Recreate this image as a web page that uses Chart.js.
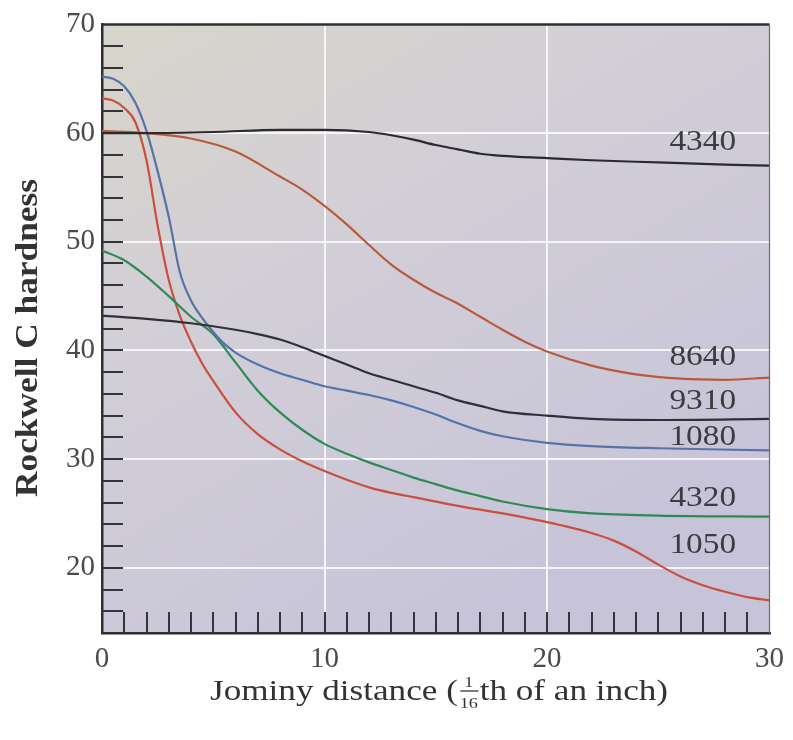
<!DOCTYPE html>
<html>
<head>
<meta charset="utf-8">
<script src="https://cdn.jsdelivr.net/npm/chart.js@4.4.0/dist/chart.umd.min.js"></script>
<style>
  html, body { margin: 0; padding: 0; background: #fff; }
</style>
</head>
<body>
<canvas id="grafico" width="793" height="740"></canvas>
<script>
// valores (distância Jominy em 1/16", dureza HRC)
const xTicks = [0, 10, 20, 30];
const yTicks = [20, 30, 40, 50, 60, 70];
const aços = ["4340", "8640", "9310", "1080", "4320", "1050"];

const d4340 = [[0,60],[2,60],[5,60.1],[8,60.3],[10,60.3],[12,60.1],[13,59.8],[14,59.4],[15,58.9],[16,58.5],[17,58.1],[18,57.9],[20,57.7],[22,57.5],[25,57.3],[28,57.1],[30,57]];
const d8640 = [[0,60.2],[2,60],[4,59.5],[6,58.3],[8,56],[9,54.8],[10,53.3],[11,51.6],[12,49.7],[13,47.9],[14,46.5],[15,45.3],[16,44.3],[17,43.1],[18,41.9],[19,40.8],[20,39.9],[22,38.6],[24,37.8],[26,37.4],[28,37.3],[30,37.5]];
const d9310 = [[0,43.2],[2,42.9],[4,42.5],[6,41.9],[7,41.5],[8,41],[9,40.3],[10,39.5],[11,38.7],[12,37.9],[13,37.3],[14,36.7],[15,36.1],[16,35.4],[17,34.9],[18,34.4],[20,34],[22,33.7],[25,33.6],[30,33.7]];
const d1080 = [[0,65.2],[0.5,65],[1,64.3],[1.5,62.8],[2,60.2],[2.5,56.5],[3,52.3],[3.5,47.2],[4,44.6],[4.5,43],[5,41.7],[5.5,40.6],[6,39.8],[7,38.7],[8,37.9],[9,37.3],[10,36.7],[11,36.3],[12,35.9],[13,35.4],[14,34.8],[15,34.1],[16,33.3],[17,32.6],[18,32.1],[20,31.5],[22,31.2],[25,31],[30,30.8]];
const d4320 = [[0,49.2],[1,48.3],[2,46.8],[3,45],[4,43.1],[5,41.5],[6,38.9],[7,36.3],[8,34.3],[9,32.7],[10,31.4],[11,30.5],[12,29.7],[13,29],[14,28.3],[15,27.7],[16,27.1],[17,26.6],[18,26.1],[20,25.4],[22,25],[25,24.8],[30,24.7]];
const d1050 = [[0,63.2],[0.5,63],[1,62.3],[1.5,61],[2,57.5],[2.5,51.5],[3,46.5],[3.5,43.2],[4,40.8],[4.5,38.8],[5,37.2],[6,34.3],[7,32.3],[8,30.9],[9,29.8],[10,28.9],[11,28.1],[12,27.4],[13,26.9],[14,26.5],[16,25.7],[18,25],[20,24.2],[22,23.2],[23,22.5],[24,21.5],[25,20.3],[26,19.2],[27,18.4],[28,17.8],[29,17.3],[30,17]];

const series = [d4340, d8640, d9310, d1080, d4320, d1050];
const cores = ["#2a2a30", "#b85a3c", "#30303a", "#5673a8", "#2f8a58", "#c9503e"];
// onde fica o nome de cada curva (coordenadas do gráfico)
const rotulos = [[27, 59.1], [27, 39.4], [27, 35.3], [27, 32.0], [27, 26.4], [27, 22.1]];

const serif = "'Liberation Serif', 'Times New Roman', serif";

// fundo da área do gráfico
const fundo = {
  id: "fundo",
  beforeDraw(chart) {
    const { ctx, chartArea: a } = chart;
    ctx.save();
    ctx.fillStyle = "#fff";
    ctx.fillRect(0, 0, chart.width, chart.height);
    const g = ctx.createLinearGradient(a.left, a.top, a.right * 0.6, a.bottom);
    g.addColorStop(0, "#d8d5cb");
    g.addColorStop(0.45, "#d2ced7");
    g.addColorStop(1, "#c7c4d9");
    ctx.fillStyle = g;
    ctx.fillRect(a.left, a.top, a.right - a.left, a.bottom - a.top);
    ctx.restore();
  }
};

// marcas menores para dentro + moldura + textos
const marcas = {
  id: "marcas",
  beforeDatasetsDraw(chart) {
    const { ctx, chartArea: a, scales: { x, y } } = chart;
    ctx.save();
    ctx.strokeStyle = "#34343c";
    ctx.lineWidth = 2;
    ctx.beginPath();
    for (let v = 16; v < 70; v += 2) {
      const py = Math.round(y.getPixelForValue(v));
      ctx.moveTo(a.left, py);
      ctx.lineTo(a.left + 21, py);
    }
    for (let v = 1; v < 30; v++) {
      const px = Math.round(x.getPixelForValue(v));
      ctx.moveTo(px, a.bottom);
      ctx.lineTo(px, a.bottom - 21);
    }
    ctx.stroke();
    ctx.restore();
  },
  afterDraw(chart) {
    const { ctx, chartArea: a, scales: { x, y } } = chart;
    ctx.save();
    // moldura de cima e da direita
    ctx.strokeStyle = "#2e2e34";
    ctx.lineWidth = 2.5;
    ctx.beginPath();
    ctx.moveTo(a.left, a.top);
    ctx.lineTo(a.right, a.top);
    ctx.stroke();
    ctx.strokeStyle = "#6a6a72";
    ctx.lineWidth = 1.2;
    ctx.beginPath();
    ctx.moveTo(a.right, a.top);
    ctx.lineTo(a.right, a.bottom);
    ctx.stroke();

    // nomes das curvas
    ctx.font = "29px " + serif;
    ctx.fillStyle = "#3c3c40";
    ctx.textAlign = "center";
    ctx.textBaseline = "middle";
    rotulos.forEach((r, i) => {
      ctx.save();
      ctx.translate(x.getPixelForValue(r[0]), y.getPixelForValue(r[1]));
      ctx.scale(1.15, 1);
      ctx.fillText(aços[i], 0, 0);
      ctx.restore();
    });

    // título do eixo y
    ctx.save();
    ctx.font = "bold 31px " + serif;
    ctx.fillStyle = "#333";
    const ty = "Rockwell C hardness";
    const wy = ctx.measureText(ty).width;
    ctx.translate(29, 338);
    ctx.rotate(-Math.PI / 2);
    ctx.scale(318 / wy, 1);
    ctx.fillText(ty, 0, 0);
    ctx.restore();

    // título do eixo x com a fração 1/16
    ctx.save();
    ctx.font = "29px " + serif;
    ctx.fillStyle = "#333";
    ctx.textAlign = "left";
    ctx.textBaseline = "alphabetic";
    const p1 = "Jominy distance (", p2 = "th of an inch)";
    const w1 = ctx.measureText(p1).width, w2 = ctx.measureText(p2).width;
    const wf = 18;
    const sx = 458 / (w1 + wf + w2);
    ctx.translate(210, 700);
    ctx.scale(sx, 1);
    ctx.fillText(p1, 0, 0);
    ctx.font = "15px " + serif;
    ctx.textAlign = "center";
    ctx.fillText("1", w1 + wf / 2, -13);
    ctx.fillText("16", w1 + wf / 2, 8);
    ctx.strokeStyle = "#333";
    ctx.lineWidth = 1.3;
    ctx.beginPath();
    ctx.moveTo(w1 + 2, -9);
    ctx.lineTo(w1 + wf - 1, -9);
    ctx.stroke();
    ctx.font = "29px " + serif;
    ctx.textAlign = "left";
    ctx.fillText(p2, w1 + wf, 0);
    ctx.restore();

    ctx.restore();
  }
};

const corGrade = (ctx, a, b) =>
  ctx.tick && (ctx.tick.value === a || ctx.tick.value === b) ? "rgba(0,0,0,0)" : "rgba(255,255,255,0.8)";

new Chart(document.getElementById("grafico"), {
  type: "line",
  data: {
    datasets: aços.map((nome, i) => ({
      label: nome,
      data: series[i].map(p => ({ x: p[0], y: p[1] })),
      borderColor: cores[i],
      borderWidth: 2.2,
      pointRadius: 0,
      fill: false,
      cubicInterpolationMode: "monotone"
    }))
  },
  options: {
    responsive: false,
    animation: false,
    layout: { padding: { top: 16, right: 22, left: 0, bottom: 0 } },
    plugins: { legend: { display: false }, tooltip: { enabled: false } },
    scales: {
      x: {
        type: "linear",
        min: 0,
        max: 30,
        afterBuildTicks: s => { s.ticks = xTicks.map(v => ({ value: v })); },
        afterFit: s => { s.height = 107; },
        ticks: { font: { family: serif, size: 29 }, color: "#4a4a4e", padding: 9, maxRotation: 0 },
        grid: { color: c => corGrade(c, 0, 30), lineWidth: 2, drawTicks: false },
        border: { display: true, color: "#2e2e34", width: 2.5 }
      },
      y: {
        min: 14,
        max: 70,
        afterBuildTicks: s => { s.ticks = yTicks.map(v => ({ value: v })); },
        afterFit: s => { s.width = 102; },
        ticks: { font: { family: serif, size: 29 }, color: "#4a4a4e", padding: 7 },
        grid: { color: c => corGrade(c, 14, 70), lineWidth: 2, drawTicks: false },
        border: { display: true, color: "#2e2e34", width: 2.5 }
      }
    }
  },
  plugins: [fundo, marcas]
});
</script>
</body>
</html>
